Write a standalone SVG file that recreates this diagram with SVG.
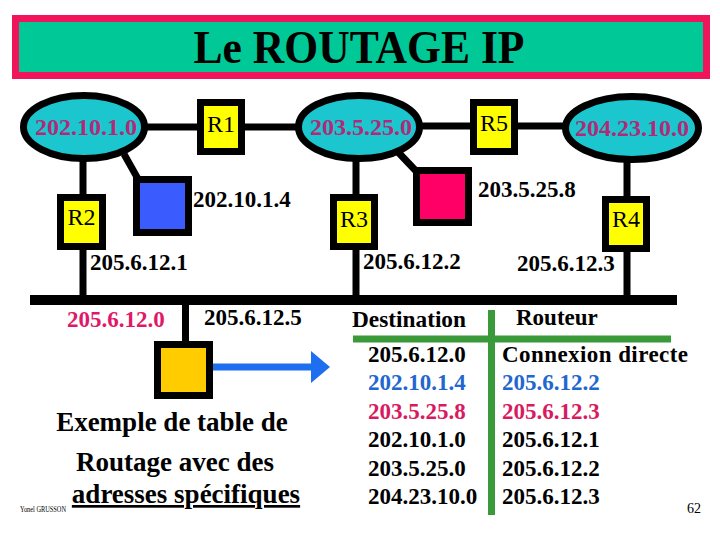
<svg xmlns="http://www.w3.org/2000/svg" width="720" height="540" viewBox="0 0 720 540" font-family="Liberation Serif">
<style>
text{font-family:Liberation Serif,serif;}
.net{fill:#1CC6CE;stroke:#000;stroke-width:7;}
.nettxt{fill:#B02A78;font-size:24px;font-weight:bold;text-anchor:middle;}
.rtr{fill:#FFFF00;stroke:#000;stroke-width:7;}
.rtxt{font-size:24px;text-anchor:middle;fill:#000;}
.host{stroke:#000;stroke-width:7;}
.lbl{font-size:23px;font-weight:bold;fill:#000;}
.cap{font-size:27px;font-weight:bold;fill:#000;text-anchor:middle;}
.wire{stroke:#000;stroke-width:7;fill:none;}
.grn{stroke:#3A9A3A;stroke-width:7;}
.tb{font-size:23px;font-weight:bold;fill:#000;}
</style>
<rect width="720" height="540" fill="#fff"/>
<g id="title">
<rect x="15.5" y="18.5" width="691" height="57" fill="#00C896" stroke="#F0145A" stroke-width="7"/>
<text x="359" y="63" font-size="46" font-weight="bold" text-anchor="middle" textLength="331" lengthAdjust="spacingAndGlyphs">Le ROUTAGE IP</text>
</g>
<g id="connectors">
<line class="wire" x1="146" y1="127" x2="199" y2="127"/>
<line class="wire" x1="243" y1="127" x2="297" y2="127"/>
<line class="wire" x1="421" y1="126" x2="472" y2="126"/>
<line class="wire" x1="516" y1="126" x2="564" y2="126"/>
<line class="wire" x1="83" y1="158" x2="83" y2="196"/>
<line class="wire" x1="83" y1="248" x2="83" y2="300"/>
<line class="wire" x1="124" y1="154" x2="138" y2="179"/>
<line class="wire" x1="397" y1="151" x2="416" y2="171"/>
<line class="wire" x1="356" y1="158" x2="356" y2="196"/>
<line class="wire" x1="356" y1="248" x2="356" y2="300"/>
<line class="wire" x1="627" y1="159" x2="627" y2="198"/>
<line class="wire" x1="627" y1="250" x2="627" y2="300"/>
<line x1="30" y1="300" x2="677" y2="300" stroke="#000" stroke-width="10"/>
<line class="wire" x1="185.5" y1="300" x2="185.5" y2="343"/>
<line x1="211" y1="367" x2="313" y2="367" stroke="#1E6EF0" stroke-width="7"/>
<polygon points="311,351 330,367 311,383" fill="#1E6EF0"/>
</g>
<g id="net-202.10.1.0">
<ellipse class="net" cx="84" cy="127" rx="60.5" ry="31.5"/>
<text class="nettxt" x="86" y="135">202.10.1.0</text>
</g>
<g id="net-203.5.25.0">
<ellipse class="net" cx="359" cy="127" rx="60.5" ry="31.5"/>
<text class="nettxt" x="361" y="135">203.5.25.0</text>
</g>
<g id="net-204.23.10.0">
<ellipse class="net" cx="632" cy="128" rx="66.5" ry="31.5"/>
<text class="nettxt" x="632" y="136">204.23.10.0</text>
</g>
<g id="R1">
<rect class="rtr" x="200.5" y="102.5" width="41" height="49"/>
<text class="rtxt" x="221" y="132">R1</text>
</g>
<g id="R5">
<rect class="rtr" x="473.5" y="102.5" width="41" height="49"/>
<text class="rtxt" x="494" y="131">R5</text>
</g>
<g id="R2">
<rect class="rtr" x="60.5" y="197.5" width="42" height="49"/>
<text class="rtxt" x="81.5" y="225">R2</text>
</g>
<g id="R3">
<rect class="rtr" x="333.5" y="197.5" width="41" height="49"/>
<text class="rtxt" x="354" y="227">R3</text>
</g>
<g id="R4">
<rect class="rtr" x="605.5" y="199.5" width="41" height="49"/>
<text class="rtxt" x="626" y="227">R4</text>
</g>
<g id="host-202.10.1.4">
<rect class="host" x="136.5" y="179.5" width="52" height="53" fill="#3A5CFF"/>
<text class="lbl" x="193" y="207">202.10.1.4</text>
</g>
<g id="host-203.5.25.8">
<rect class="host" x="416.5" y="170.5" width="52" height="52" fill="#FF0066"/>
<text class="lbl" x="478" y="197">203.5.25.8</text>
</g>
<g id="host-205.6.12.5">
<rect class="host" x="157.5" y="344.5" width="52" height="51" fill="#FFCC00"/>
<text class="lbl" x="204" y="325">205.6.12.5</text>
</g>
<g id="labels">
<text class="lbl" x="90" y="270">205.6.12.1</text>
<text class="lbl" x="363" y="269">205.6.12.2</text>
<text class="lbl" x="517" y="271">205.6.12.3</text>
<text class="lbl" x="67" y="327" style="fill:#E0186A">205.6.12.0</text>
<text class="cap" x="172" y="431">Exemple de table de</text>
<text class="cap" x="175" y="471">Routage avec des</text>
<text class="cap" x="186" y="503" text-decoration="underline">adresses spécifiques</text>
<text x="20" y="512" font-size="8" fill="#000" textLength="46" lengthAdjust="spacingAndGlyphs">Yonel GRUSSON</text>
<text x="687" y="513" font-size="14" fill="#000">62</text>
</g>
<g id="table">
<line class="grn" x1="491.5" y1="310" x2="491.5" y2="515"/>
<line class="grn" x1="353" y1="339" x2="671" y2="339"/>
<text class="tb" x="352" y="327" textLength="114" lengthAdjust="spacingAndGlyphs">Destination</text>
<text class="tb" x="516" y="325">Routeur</text>
<text class="tb" x="368" y="362">205.6.12.0</text>
<text class="tb" x="502" y="362" textLength="186">Connexion directe</text>
<text class="tb" x="368" y="390" style="fill:#2266D0">202.10.1.4</text>
<text class="tb" x="502" y="390" style="fill:#2266D0">205.6.12.2</text>
<text class="tb" x="368" y="419" style="fill:#D81B60">203.5.25.8</text>
<text class="tb" x="502" y="419" style="fill:#D81B60">205.6.12.3</text>
<text class="tb" x="368" y="447">202.10.1.0</text>
<text class="tb" x="502" y="447">205.6.12.1</text>
<text class="tb" x="368" y="476">203.5.25.0</text>
<text class="tb" x="502" y="476">205.6.12.2</text>
<text class="tb" x="368" y="504">204.23.10.0</text>
<text class="tb" x="502" y="504">205.6.12.3</text>
</g>
</svg>
